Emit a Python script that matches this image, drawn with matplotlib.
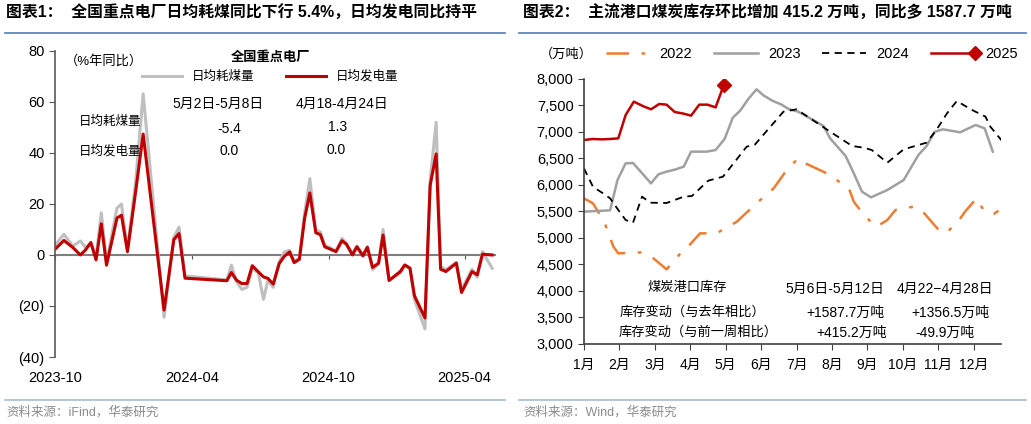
import numpy as np
import pandas as pd
import matplotlib
matplotlib.use("Agg")
import matplotlib.pyplot as plt
import matplotlib.dates as mdates
from matplotlib.lines import Line2D
from matplotlib.legend_handler import HandlerLine2D
from matplotlib.ticker import FuncFormatter

plt.rcParams['font.family'] = ['Liberation Sans', 'Noto Sans CJK SC', 'DejaVu Sans']
plt.rcParams['axes.unicode_minus'] = False

# -------------------------------
# 数据：全国重点电厂 (%年同比)
# -------------------------------
fechas = ["2023-10-02", "2023-10-13", "2023-10-25", "2023-11-04", "2023-11-11", "2023-11-18",
          "2023-11-25", "2023-12-02", "2023-12-09", "2023-12-23", "2023-12-29", "2024-01-06",
          "2024-01-17", "2024-01-27", "2024-02-24", "2024-03-08", "2024-03-15", "2024-03-23",
          "2024-05-18", "2024-05-24", "2024-05-31", "2024-06-07", "2024-06-14", "2024-06-21",
          "2024-06-29", "2024-07-06", "2024-07-12", "2024-07-19", "2024-07-27", "2024-08-03",
          "2024-08-10", "2024-08-16", "2024-08-23", "2024-08-30", "2024-09-06", "2024-09-14",
          "2024-09-20", "2024-09-26", "2024-10-04", "2024-10-11", "2024-10-19", "2024-10-25",
          "2024-11-02", "2024-11-08", "2024-11-16", "2024-11-22", "2024-11-29", "2024-12-07",
          "2024-12-13", "2024-12-21", "2025-01-05", "2025-01-11", "2025-01-18", "2025-01-24",
          "2025-02-07", "2025-02-14", "2025-02-22", "2025-02-28", "2025-03-07", "2025-03-21",
          "2025-03-28", "2025-04-11", "2025-04-18", "2025-04-25", "2025-05-08"]
haomei = [4.2, 8.1, 3.5, 5.5, 2.9, 4.5, -1.0, 16.5, -3.0, 18.4, 20.0, 2.2,
          28.8, 63.2, -24.4, 6.8, 10.9, -8.2,
          -9.8, -4.0, -10.5, -13.5, -12.7, -5.3, -7.0, -17.4, -9.9, -12.7, -2.7, 1.2,
          1.8, -2.3, -1.4, 16.2, 29.9, 9.7, 9.1, 3.8, 2.7, 1.5, 6.5, 4.5,
          0.5, 3.5, 0.4, 3.2, -5.8, -3.5, 10.0, -10.0, -7.1, -4.2, -5.2, -17.5,
          -29.0, 29.2, 52.0, -4.5, -5.8, -2.9, -13.6, -5.6, -8.7, 1.3, -5.2]
fadian = [2.5, 5.7, 2.9, 0.0, 2.0, 4.9, -1.9, 12.2, -4.0, 14.5, 15.6, 1.3,
          24.9, 47.4, -21.6, 6.0, 8.4, -9.1,
          -10.1, -6.9, -9.9, -11.2, -11.2, -4.2, -6.6, -8.6, -9.2, -11.4, -3.4, -0.5,
          1.2, -3.0, -1.7, 14.3, 24.3, 8.7, 8.0, 3.2, 2.2, 1.3, 5.6, 4.2,
          0.0, 3.2, -0.4, 3.0, -4.9, -3.2, 7.8, -10.0, -6.5, -3.9, -5.2, -16.0,
          -24.7, 27.3, 39.6, -5.6, -6.5, -3.2, -14.7, -6.5, -7.8, 0.3, 0.0]

# -------------------------------
# 数据：主流港口煤炭库存 (万吨)，x = 周
# -------------------------------
sem_2022 = [0, 1.1, 1.8, 2.4, 3.6, 4.2, 7.1, 8.5, 10.1, 11.8, 12.8, 14.2, 16.2, 18.7, 21.1,
            23.2, 24.8, 26.2, 26.9, 29.7, 32.4, 33.0, 34.4, 35.8, 37.1, 38.1, 40.3, 41.2,
            43.2, 44.2, 45.6, 46.6, 48.0, 49.0, 50.1, 50.7]
val_2022 = [5748, 5654, 5478, 5339, 4836, 4710, 4729, 4616, 4408, 4710, 4849, 5088, 5088, 5308,
            5654, 5937, 6283, 6503, 6421, 6220, 5937, 5685, 5402, 5214, 5339, 5528, 5591, 5541,
            5182, 5088, 5277, 5496, 5748, 5496, 5453, 5515]
sem_2023 = [0, 3.2, 4.1, 5.1, 6.0, 8.2, 9.1, 10.1, 11.1, 12.2, 13.1, 15.0, 16.1, 17.2, 18.2,
            19.1, 20.1, 21.1, 22.0, 23.1, 24.1, 25.1, 26.2, 27.3, 29.3, 30.1, 32.0, 33.0,
            34.0, 35.1, 37.1, 39.1, 40.9, 41.9, 42.9, 43.9, 46.0, 47.9, 49.0, 50.0]
val_2023 = [5497, 5522, 6094, 6409, 6415, 6031, 6201, 6251, 6289, 6346, 6629, 6629, 6660, 6868,
            7270, 7402, 7623, 7805, 7686, 7585, 7522, 7428, 7384, 7289, 7113, 6880, 6547, 6220,
            5874, 5767, 5905, 6094, 6566, 6736, 7006, 7050, 6994, 7132, 7069, 6629]
sem_2024 = [0, 1.1, 2.2, 3.2, 4.2, 5.1, 6.0, 7.1, 8.1, 10.1, 12.2, 13.2, 15.2, 17.0, 18.3,
            19.9, 20.9, 22.8, 24.4, 26.0, 28.7, 30.1, 32.8, 34.2, 35.2, 37.1, 39.1, 41.9,
            43.1, 44.4, 45.6, 47.3, 49.1, 49.7, 51.1]
val_2024 = [6314, 5968, 5855, 5748, 5528, 5339, 5289, 5780, 5666, 5660, 5780, 5792, 6082, 6157,
            6409, 6723, 6761, 7100, 7384, 7428, 7151, 7006, 6736, 6704, 6660, 6421, 6673, 6799,
            7038, 7352, 7585, 7428, 7289, 7100, 6836]
sem_2025 = [0, 1.1, 2.2, 3.2, 4.2, 5.1, 6.1, 7.2, 8.2, 9.2, 10.1, 11.1, 12.2, 13.1, 14.1,
            15.1, 16.1, 17.1]
val_2025 = [6849, 6868, 6861, 6868, 6880, 7321, 7572, 7490, 7428, 7528, 7516, 7377, 7346, 7308,
            7516, 7516, 7465, 7887]
meses = [f"{m}月" for m in range(1, 13)]


# 图例：菱形只画在线段右端
class HandlerEndMarker(HandlerLine2D):
    def create_artists(self, legend, orig_handle, xdescent, ydescent, width, height, fontsize, trans):
        arts = super().create_artists(legend, orig_handle, xdescent, ydescent, width, height,
                                      fontsize, trans)
        for a in arts:
            n = len(a.get_xdata())
            a.set_markevery([n - 1])
        return arts


# -------------------------------
# FIGURA
# -------------------------------
fig = plt.figure(figsize=(10.31, 4.24), dpi=100)

titulo_kw = dict(fontsize=11.4, fontweight='bold', va='center', ha='left')
fig.text(0.006, 0.969, "图表1：  全国重点电厂日均耗煤同比下行 5.4%，日均发电同比持平", **titulo_kw)
fig.text(0.507, 0.969, "图表2：  主流港口煤炭库存环比增加 415.2 万吨，同比多 1587.7 万吨", **titulo_kw)
for x0, x1 in [(0.005, 0.49), (0.503, 0.995)]:
    fig.add_artist(Line2D([x0, x1], [0.922, 0.922], transform=fig.transFigure,
                          color='#4F7CB8', lw=1.2))
    fig.add_artist(Line2D([x0, x1], [0.057, 0.057], transform=fig.transFigure,
                          color='#A9BCD6', lw=1.2))
fig.text(0.006, 0.028, "资料来源：iFind，华泰研究", fontsize=9, color='#8C8C8C', va='center')
fig.text(0.508, 0.028, "资料来源：Wind，华泰研究", fontsize=9, color='#8C8C8C', va='center')

# ---------- 左图 ----------
ax1 = fig.add_axes([0.0533, 0.158, 0.427, 0.722])
x1 = pd.to_datetime(fechas)
ax1.plot(x1, haomei, color='#BFBFBF', lw=2.2, label='日均耗煤量')
ax1.plot(x1, fadian, color='#C00000', lw=2.2, label='日均发电量')
ax1.set_ylim(-40, 80)
ax1.set_xlim(pd.Timestamp("2023-10-01"), pd.Timestamp("2025-05-12"))
ax1.set_yticks(range(-40, 81, 20))
ax1.yaxis.set_major_formatter(FuncFormatter(lambda v, p: f"({abs(v):.0f})" if v < 0 else f"{v:.0f}"))
ticks1 = pd.to_datetime(["2023-10-01", "2024-04-01", "2024-10-01", "2025-04-01"])
ax1.set_xticks(ticks1)
ax1.set_xticklabels(["2023-10", "2024-04", "2024-10", "2025-04"])
ax1.tick_params(axis='x', length=0, labelsize=10.5, pad=10)
ax1.tick_params(axis='y', labelsize=10.5, color='#595959', length=4)
for s in ['top', 'right', 'bottom']:
    ax1.spines[s].set_visible(False)
ax1.spines['left'].set_color('#595959')
ax1.spines['left'].set_linewidth(1.2)
sec = ax1.secondary_xaxis(1 / 3)
sec.set_xticks(mdates.date2num(ticks1))
sec.set_xticklabels([])
sec.tick_params(axis='x', length=3, color='#595959', direction='out')
sec.spines['bottom'].set_color('#7F7F7F')
sec.spines['bottom'].set_linewidth(1.5)
ax1.set_zorder(2)

fig.legend(*ax1.get_legend_handles_labels(), loc='upper center', bbox_to_anchor=(0.262, 0.905),
           ncol=2, frameon=False, fontsize=9, handlelength=3.2, columnspacing=2.5,
           title="全国重点电厂", title_fontproperties={'weight': 'bold', 'size': 9.5})
fig.text(0.063, 0.855, "（%年同比）", fontsize=9.5, va='center')
t_kw = dict(fontsize=10, ha='center', va='center')
fig.text(0.2115, 0.755, "5月2日-5月8日", **t_kw)
fig.text(0.3317, 0.755, "4月18-4月24日", **t_kw)
fig.text(0.1067, 0.712, "日均耗煤量", fontsize=9, ha='center', va='center')
fig.text(0.1067, 0.644, "日均发电量", fontsize=9, ha='center', va='center')
fig.text(0.222, 0.696, "-5.4", **t_kw)
fig.text(0.327, 0.700, "1.3", **t_kw)
fig.text(0.222, 0.644, "0.0", **t_kw)
fig.text(0.326, 0.646, "0.0", **t_kw)

# ---------- 右图 ----------
ax2 = fig.add_axes([0.5664, 0.1887, 0.4045, 0.625])
ax2.plot(sem_2022, val_2022, color='#ED7D31', lw=1.8, dashes=(9, 5, 1.5, 5), label='2022')
ax2.plot(sem_2023, val_2023, color='#A0A0A0', lw=1.8, label='2023')
ax2.plot(sem_2024, val_2024, color='black', lw=1.3, dashes=(4, 3), label='2024')
ax2.plot(sem_2025, val_2025, color='#C00000', lw=1.8, marker='D', markersize=7,
         markevery=[len(val_2025) - 1], label='2025')
ax2.set_ylim(3000, 8000)
ax2.set_xlim(0, 51)
ax2.set_yticks(range(3000, 8001, 500))
ax2.yaxis.set_major_formatter(FuncFormatter(lambda v, p: f"{v:,.0f}"))
ax2.set_xticks([i * 52 / 12 for i in range(12)])
ax2.set_xticklabels(meses)
ax2.tick_params(axis='x', labelsize=10, length=4, color='#404040', pad=6)
ax2.tick_params(axis='y', labelsize=10.5, length=4, color='#404040')
for s in ['top', 'right']:
    ax2.spines[s].set_visible(False)
for s in ['left', 'bottom']:
    ax2.spines[s].set_color('#404040')
    ax2.spines[s].set_linewidth(1.2)

h2, l2 = ax2.get_legend_handles_labels()
fig.legend(h2, l2, loc='center', bbox_to_anchor=(0.785, 0.872), ncol=4, frameon=False,
           fontsize=10.5, handlelength=3.6, columnspacing=1.2, handletextpad=0.4, numpoints=2,
           handler_map={h2[3]: HandlerEndMarker(numpoints=2)})
fig.text(0.5237, 0.872, "（万吨）", fontsize=9.5, va='center')

fig.text(0.667, 0.321, "煤炭港口库存", fontsize=9.5, ha='center', va='center')
fig.text(0.810, 0.318, "5月6日-5月12日", **t_kw)
fig.text(0.9166, 0.318, "4月22−4月28日", **t_kw)
fig.text(0.672, 0.264, "库存变动（与去年相比）", fontsize=9.5, ha='center', va='center')
fig.text(0.677, 0.215, "库存变动（与前一周相比）", fontsize=9.5, ha='center', va='center')
fig.text(0.8196, 0.262, "+1587.7万吨", **t_kw)
fig.text(0.9214, 0.262, "+1356.5万吨", **t_kw)
fig.text(0.8264, 0.215, "+415.2万吨", **t_kw)
fig.text(0.9166, 0.215, "-49.9万吨", **t_kw)

fig.savefig("out.png", dpi=100)
